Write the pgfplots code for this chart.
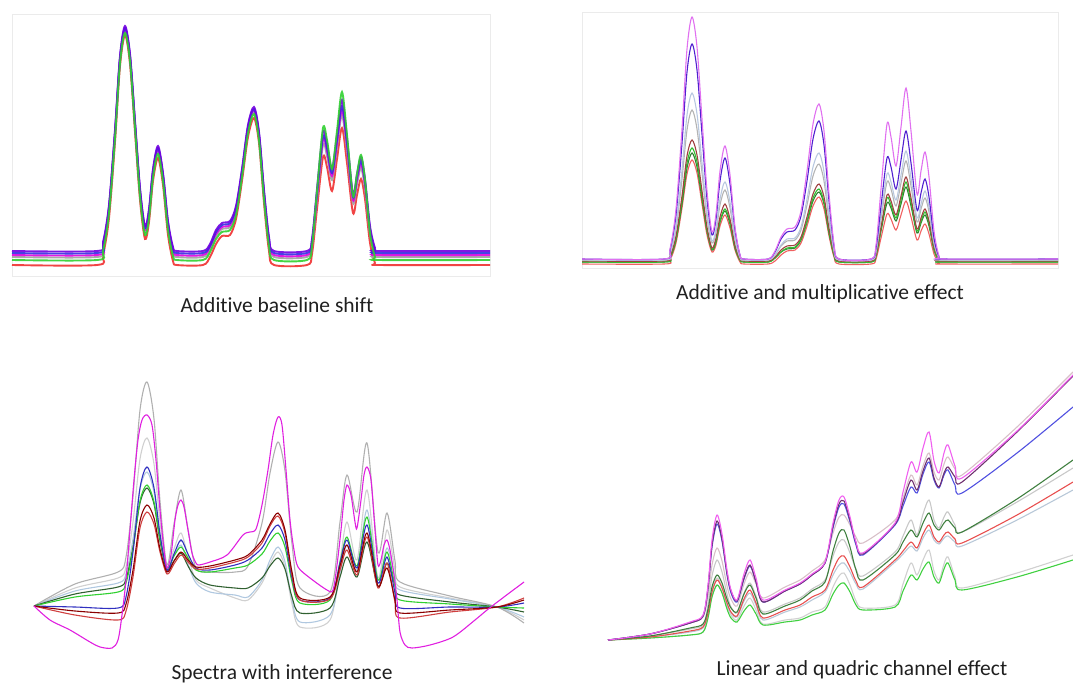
\documentclass[border=0pt]{standalone}
\usepackage{pgfplots}
\pgfplotsset{compat=1.18}
\usepackage{pgfplotstable}
\usepackage{fontspec}
\setmainfont{Carlito}[Ligatures={NoCommon,NoRequired,NoContextual}]

% ---- colours ----
\definecolor{aPu}{HTML}{7000E0}
\definecolor{aBl}{HTML}{3030E0}
\definecolor{aMg}{HTML}{E000E0}
\definecolor{aGy}{HTML}{A0A0A0}
\definecolor{aGn}{HTML}{30D030}
\definecolor{aRd}{HTML}{F03030}

\definecolor{bMg}{HTML}{E070F0}
\definecolor{bBp}{HTML}{5020D0}
\definecolor{bLb}{HTML}{B8C8E0}
\definecolor{bGy}{HTML}{B4B4B4}
\definecolor{bBr}{HTML}{A04040}
\definecolor{bGn}{HTML}{30C030}
\definecolor{bDg}{HTML}{308030}
\definecolor{bRd}{HTML}{F06060}

\definecolor{cMg}{HTML}{E020E0}
\definecolor{cGy}{HTML}{B0B0B0}
\definecolor{cLg}{HTML}{D0D0D0}
\definecolor{cBl}{HTML}{3030C0}
\definecolor{cLb}{HTML}{B0C8E0}
\definecolor{cGn}{HTML}{30D030}
\definecolor{cDg}{HTML}{306030}
\definecolor{cDr}{HTML}{8B0000}
\definecolor{cRd}{HTML}{D04040}

\definecolor{dMg}{HTML}{F060F0}
\definecolor{dPu}{HTML}{703070}
\definecolor{dPg}{HTML}{D8C0C8}
\definecolor{dBl}{HTML}{5050E0}
\definecolor{dDg}{HTML}{408040}
\definecolor{dLa}{HTML}{C8C8C8}
\definecolor{dRd}{HTML}{E85050}
\definecolor{dLb}{HTML}{B8C8D8}
\definecolor{dGn}{HTML}{40D040}
\definecolor{dLc}{HTML}{D0D0D0}

% ---- data (image pixel coordinates) ----
\pgfplotstableread{
x pu bl mg gy gn rd
12 251 253 255 257 260 265
97 251 253 255 257 260 265
103 242 244 246 248 251 255
109 205 207 208 210 213 218
115 130 132 133 135 138 142
120 56 58 59 60 63 66
125 26 28 29 30 33 35
130 54 56 57 58 61 64
135 121 123 124 125 128 132
140 188 190 191 193 196 200
145 226 228 230 232 235 239
149 209 211 213 215 218 222
153 169 171 173 174 177 181
158 146 148 149 151 154 158
163 173 175 176 178 181 185
168 221 223 225 227 230 235
173 247 249 251 253 256 261
177 251 253 255 257 260 265
203 251 253 255 257 260 265
210 244 246 247 249 252 257
216 230 232 234 236 239 244
222 223 225 227 229 232 236
230 221 223 225 227 230 235
236 206 208 210 212 215 219
242 169 171 173 174 177 181
248 125 127 129 130 133 137
254 107 109 110 111 114 118
259 132 134 135 137 140 143
264 190 192 194 196 199 203
269 237 239 241 243 246 251
274 251 253 255 257 260 265
307 251 253 255 257 260 265
312 239 241 243 245 246 254
317 189 193 196 199 191 209
323 132 137 140 145 128 157
327 144 148 151 156 140 167
332 169 173 176 180 169 191
337 135 140 143 147 131 159
342 100 106 110 115 92 128
347 138 143 146 151 135 163
353 194 197 200 203 196 213
357 174 177 180 184 174 195
361 157 161 164 168 155 179
365 179 182 185 189 180 199
370 226 229 231 234 233 243
375 248 250 252 254 257 263
379 251 253 255 257 260 265
490 251 253 255 257 260 265
}\tabA

\pgfplotstableread{
x mg bp lb gy br gn dg rd
582 259 259 260 260 261 262 262 264
664 259 259 260 260 261 262 262 264
670 249 250 253 254 256 257 258 260
676 209 215 226 229 236 239 240 243
682 129 143 170 179 196 201 204 208
687 49 72 115 130 156 163 168 174
692 17 44 93 110 140 148 153 160
697 47 70 114 129 155 162 167 173
702 119 134 163 173 191 196 199 204
707 191 199 213 218 227 230 231 235
712 232 235 241 243 248 249 250 252
716 214 219 229 232 238 241 242 245
720 171 181 199 205 217 221 222 226
725 146 158 182 190 204 209 211 215
730 175 184 202 208 219 222 224 228
735 227 230 238 240 245 247 248 250
740 255 255 257 258 259 260 260 262
744 259 259 260 260 261 262 262 264
768 259 259 260 260 261 262 262 264
775 251 252 255 255 257 258 258 261
781 237 239 245 246 250 252 252 255
787 229 232 239 241 246 248 249 251
795 227 230 238 240 245 247 248 250
801 211 216 227 230 237 239 240 243
807 171 181 199 205 217 221 222 226
813 124 139 167 176 194 198 201 206
819 104 121 153 164 184 189 192 197
824 131 145 172 181 197 202 204 209
829 194 201 215 220 228 231 233 236
834 244 246 250 251 253 255 255 257
839 259 259 260 260 261 262 262 264
871 259 259 260 260 261 262 262 264
876 245 248 251 252 254 255 256 259
881 189 206 215 219 227 229 231 238
887 124 158 174 182 195 198 203 214
891 137 167 182 189 201 205 208 219
896 166 189 200 206 215 218 221 230
901 127 160 175 183 196 200 204 215
906 88 131 151 161 177 182 187 201
911 131 163 178 186 198 202 206 217
917 194 210 218 222 229 231 233 240
921 171 193 204 209 218 221 223 231
925 152 179 191 198 209 212 215 224
929 177 197 207 212 221 223 226 234
934 231 238 242 244 247 249 250 254
939 256 257 258 258 259 261 261 263
943 259 259 260 260 261 262 262 264
1058 259 259 260 260 261 262 262 264
}\tabB

\pgfplotstableread{
x y
34 606
50 620
70 630
90 642
100 647
112 648
118 640
122 615
126 580
130 530
134 480
138 440
142 420
147 415
152 425
156 460
160 510
164 550
167 568
171 555
175 520
178 505
181 500
184 507
188 530
192 553
196 563
199 565
210 562
227 555
243 535
250 532
256 529
262 505
268 470
273 435
278 417
282 425
286 470
290 520
294 550
298 567
310 578
327 590
333 590
337 565
341 530
344 500
347 485
351 495
355 522
357 528
361 500
364 475
367 467
371 480
375 530
378 565
381 560
384 545
387 540
390 550
394 575
397 600
400 632
405 645
412 648
430 645
453 637
475 620
487 610
500 600
524 582
}\tabCm

\pgfplotstableread{
x gy lg lb dg gn bl dr rd
34 606 606 606 606 606 606 606 606
75 584 588 591 594 597 607 611 615
118 572 578 583 587 592 608 613 620
126 557 567 574 579 583 597 604 611
133 496 522 539 547 549 552 570 577
140 410 459 489 503 501 488 521 528
147 382 438 472 488 485 467 505 512
154 419 464 492 504 502 488 518 524
160 501 522 536 541 539 534 549 552
167 565 568 570 570 568 570 572 574
174 524 549 556 561 556 554 561 564
181 490 533 545 553 547 540 552 555
188 529 556 564 566 558 554 560 562
196 568 580 583 578 570 568 567 569
210 572 588 592 585 572 570 566 568
235 572 598 595 588 568 565 560 562
248 566 600 597 588 565 560 555 557
262 523 583 580 578 554 548 540 543
270 473 564 560 566 541 534 524 526
278 442 552 547 558 533 525 513 516
285 471 567 562 569 547 540 530 533
292 544 604 600 597 582 578 572 575
300 588 627 622 613 603 600 598 600
330 592 620 615 608 600 598 597 599
340 522 561 573 577 562 563 566 570
347 475 522 545 557 537 540 545 550
357 512 560 570 577 566 568 572 575
367 443 490 510 542 517 525 533 537
378 552 578 580 587 580 583 586 588
387 513 530 548 563 552 557 568 563
395 561 570 577 585 586 593 600 602
400 582 587 590 595 600 608 613 618
450 596 598 599 602 604 607 610 612
497 607 607 607 607 607 607 607 607
524 623 620 617 612 608 603 600 598
}\tabC

\pgfplotstableread{
x mg pu pg bl dg la rd lb gn lc
608 640 640 640 640 640 640 640 640 640 640
650 634 634 634 634 636 636 637 637 638 638
690 622 623 623 623 628 629 631 632 635 635
703 615 616 617 616 624 625 627 628 632 632
708 585 588 596 588 609 605 613 615 618 616
712 540 545 565 547 587 576 592 596 597 591
717 515 521 548 524 575 560 580 585 585 578
722 534 539 561 541 583 572 588 592 593 587
727 570 573 586 575 599 594 603 606 609 605
731 590 591 599 593 608 607 612 613 618 615
737 600 601 606 602 612 613 616 617 622 620
744 574 578 584 579 594 593 599 601 611 606
750 560 565 572 566 585 583 590 593 605 598
756 578 582 584 582 598 596 603 605 614 610
763 600 602 598 602 614 612 618 620 625 624
785 590 591 587 591 606 604 610 612 622 620
800 583 584 580 584 600 598 605 607 620 618
812 574 575 571 575 591 589 597 600 615 612
825 562 563 560 563 582 580 590 592 610 607
833 523 526 533 528 551 556 570 575 594 587
839 500 504 517 507 533 542 558 565 585 576
844 497 501 515 504 530 540 556 563 583 573
850 517 520 525 522 547 553 567 572 592 585
856 542 543 537 545 570 569 581 584 605 601
863 553 554 543 555 580 576 587 589 610 608
895 523 524 520 525 555 552 560 562 607 605
903 492 502 498 506 542 536 551 554 591 584
911 462 480 475 487 530 520 542 546 575 563
917 472 490 485 493 537 535 548 551 580 575
923 448 471 466 474 523 514 534 538 569 560
929 432 458 453 462 513 500 525 530 562 550
934 461 478 472 480 525 520 537 540 577 571
939 473 487 480 488 530 528 542 544 583 580
944 453 473 464 475 523 517 535 538 569 564
948 445 467 457 470 520 512 532 536 563 557
955 466 477 469 485 528 525 539 542 580 577
962 478 482 475 493 532 532 543 546 590 588
1017 431 432 427 453 499 502 515 520 577 573
1073 375 376 372 407 460 468 482 490 560 555
}\tabD

\pgfplotsset{
  spec/.style={scale only axis, y dir=reverse, ticks=none, clip=true},
  framed/.style={axis line style={draw=black!8, line width=0.6pt}},
  ln/.style={no marks, smooth, tension=0.5, line width=1.1pt},
  noisy/.style={no marks, smooth, tension=0.5, line width=1.9pt, opacity=0.9},
}

\begin{document}
\begin{tikzpicture}
\useasboundingbox (0pt,0pt) rectangle (1073pt,686pt);

% ---------- Panel 1: additive baseline shift ----------
\begin{axis}[spec, framed, at={(251pt,541pt)}, anchor=center,
  width=478pt, height=262pt, xmin=12, xmax=490, ymin=14, ymax=276]
\addplot[noisy, aRd] table[x=x,y=rd]{\tabA};
\addplot[noisy, aGy] table[x=x,y=gy]{\tabA};
\addplot[noisy, aMg] table[x=x,y=mg]{\tabA};
\addplot[noisy, aBl] table[x=x,y=bl]{\tabA};
\addplot[noisy, aPu] table[x=x,y=pu]{\tabA};
\addplot[noisy, aGn] table[x=x,y=gn]{\tabA};
\end{axis}

% ---------- Panel 2: additive and multiplicative ----------
\begin{axis}[spec, framed, at={(820pt,546pt)}, anchor=center,
  width=476pt, height=256pt, xmin=582, xmax=1058, ymin=12, ymax=268]
\addplot[ln, bRd] table[x=x,y=rd]{\tabB};
\addplot[ln, bDg] table[x=x,y=dg]{\tabB};
\addplot[ln, bGn] table[x=x,y=gn]{\tabB};
\addplot[ln, bBr] table[x=x,y=br]{\tabB};
\addplot[ln, bGy] table[x=x,y=gy]{\tabB};
\addplot[ln, bLb] table[x=x,y=lb]{\tabB};
\addplot[ln, bBp] table[x=x,y=bp]{\tabB};
\addplot[ln, bMg] table[x=x,y=mg]{\tabB};
\end{axis}

% ---------- Panel 3: interference ----------
\begin{axis}[spec, hide axis, at={(280pt,171pt)}, anchor=center,
  width=520pt, height=290pt, xmin=20, xmax=540, ymin=370, ymax=660]
\addplot[ln, cLg] table[x=x,y=lg]{\tabC};
\addplot[ln, cLb] table[x=x,y=lb]{\tabC};
\addplot[ln, cGy] table[x=x,y=gy]{\tabC};
\addplot[ln, cDg] table[x=x,y=dg]{\tabC};
\addplot[ln, cGn] table[x=x,y=gn]{\tabC};
\addplot[ln, cBl] table[x=x,y=bl]{\tabC};
\addplot[ln, cRd] table[x=x,y=rd]{\tabC};
\addplot[ln, cDr] table[x=x,y=dr]{\tabC};
\addplot[ln, cMg] table[x=x,y=y]{\tabCm};
\end{axis}

% ---------- Panel 4: linear and quadric channel ----------
\begin{axis}[spec, hide axis, at={(836.5pt,176pt)}, anchor=center,
  width=473pt, height=300pt, xmin=600, xmax=1073, ymin=360, ymax=660]
\addplot[ln, dLc] table[x=x,y=lc]{\tabD};
\addplot[ln, dLb] table[x=x,y=lb]{\tabD};
\addplot[ln, dLa] table[x=x,y=la]{\tabD};
\addplot[ln, dPg] table[x=x,y=pg]{\tabD};
\addplot[ln, dGn] table[x=x,y=gn]{\tabD};
\addplot[ln, dRd] table[x=x,y=rd]{\tabD};
\addplot[ln, dDg] table[x=x,y=dg]{\tabD};
\addplot[ln, dBl] table[x=x,y=bl]{\tabD};
\addplot[ln, dPu] table[x=x,y=pu]{\tabD};
\addplot[ln, dMg] table[x=x,y=mg]{\tabD};
\end{axis}

% ---------- captions ----------
\begin{scope}[every node/.style={font=\fontsize{21.5}{25}\selectfont, text=black!88, inner sep=0pt}]
\node at (277pt,381pt) {Additive baseline shift};
\node at (820pt,392pt) {Additive and multiplicative effect};
\node at (282pt,12pt) {Spectra with interference};
\node at (862pt,16pt) {Linear and quadric channel effect};
\end{scope}
\end{tikzpicture}
\end{document}
